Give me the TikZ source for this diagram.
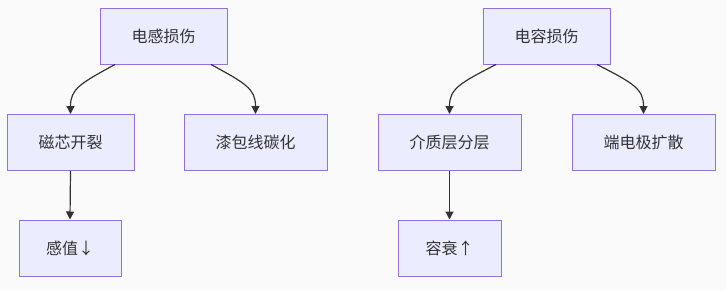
\documentclass[tikz,border=0pt]{standalone}
\usepackage{fontspec}
\setmainfont{Noto Sans CJK SC}
\usetikzlibrary{calc,arrows.meta}
\definecolor{bgc}{HTML}{FAFAFA}
\definecolor{boxfill}{HTML}{ECECFF}
\definecolor{boxline}{HTML}{9370DB}
\definecolor{edgec}{HTML}{333333}
\tikzset{
  box/.style={draw=boxline, fill=boxfill, line width=1pt, minimum height=56pt, inner sep=0pt, font=\fontsize{16pt}{19pt}\selectfont, text=edgec},
  edge/.style={draw=edgec, line width=1.2pt, -{Triangle[length=8pt,width=8pt]}}
}
\begin{document}
\begin{tikzpicture}[x=1pt,y=-1pt]
\fill[bgc] (0,0) rectangle (726,290);
\useasboundingbox (0,0) rectangle (726,290);
\node[box, minimum width=127pt] (dg) at (163.5,36) {电感损伤};
\node[box, minimum width=127pt] (cx) at (70.5,142.5) {磁芯开裂};
\node[box, minimum width=143pt] (qb) at (255.5,142.5) {漆包线碳化};
\node[box, minimum width=102pt] (gz) at (70,248) {感值↓};
\node[box, minimum width=127pt] (dr) at (546.5,36) {电容损伤};
\node[box, minimum width=143pt] (jz) at (449.5,142.5) {介质层分层};
\node[box, minimum width=143pt] (dd) at (643.5,142.5) {端电极扩散};
\node[box, minimum width=103pt] (rs) at (449.5,248) {容衰↑};
\draw[edge] ($(dg.south)+(-48.5,0)$) .. controls +(-35,19) and +(0,-25) .. (cx.north);
\draw[edge] ($(dg.south)+(47.5,0)$) .. controls +(35,19) and +(0,-25) .. (qb.north);
\draw[edge] ($(dr.south)+(-50.5,0)$) .. controls +(-37,19) and +(0,-25) .. (jz.north);
\draw[edge] ($(dr.south)+(50.5,0)$) .. controls +(37,19) and +(0,-25) .. (dd.north);
\draw[edge] (cx.south) -- (gz.north);
\draw[edge] (jz.south) -- (rs.north);
\end{tikzpicture}
\end{document}
